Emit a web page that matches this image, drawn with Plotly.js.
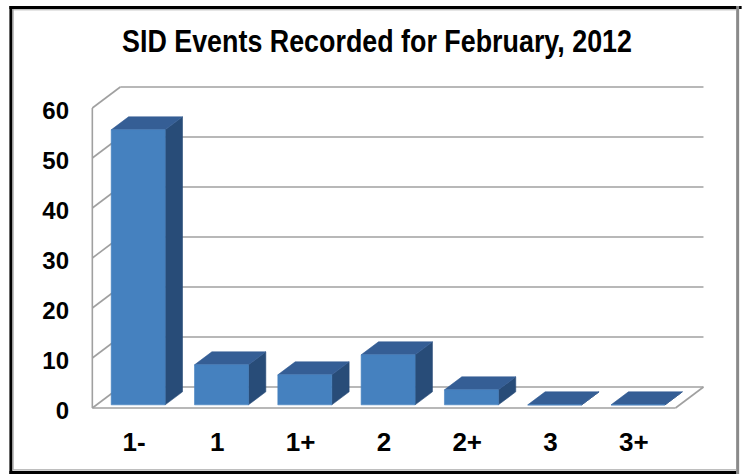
<!DOCTYPE html>
<html><head><meta charset="utf-8">
<script src="https://cdn.plot.ly/plotly-3.0.1.min.js"></script>
<style>html,body{margin:0;padding:0;background:#fff;overflow:hidden;} #chart{width:742px;height:474px;}</style>
</head><body><div id="chart"></div>
<script>
// ---- data ----
const categories = ['1-', '1', '1+', '2', '2+', '3', '3+'];
const counts = [55, 8, 6, 10, 3, 0, 0];
const yTicks = [0, 10, 20, 30, 40, 50, 60];
const titleText = 'SID Events Recorded for February, 2012';

// ---- geometry (pixels -> axis units) ----
const W = 742, H = 474;
const PXU = 83.4, PYU = 5, X0PX = 133.7, Y0PX = 408;
const XMIN = -0.6, XMAX = 6.95, YMIN = -1, YMAX = 65.6;
const DEPX = 28 / PXU, DEPY = 21 / PYU;
const BAR_W = 54 / PXU, BAR_F = 0.15, BAR_B = 0.77;
const ml = X0PX + PXU * XMIN, mr = W - (X0PX + PXU * XMAX);
const mt = Y0PX - PYU * YMAX, mb = H - (Y0PX - PYU * YMIN);
const pw = W - ml - mr, ph = H - mt - mb;
const px2p = px => (px - ml) / pw;
const py2p = py => (H - mb - py) / ph;

const nCat = categories.length;
const yMaxTick = yTicks[yTicks.length - 1];

// ---- walls & grid ----
const grid = {x: [], y: []};
function seg(x1, y1, x2, y2) { grid.x.push(x1, x2, null); grid.y.push(y1, y2, null); }
yTicks.forEach(v => {
  seg(-0.5 + DEPX, v + DEPY, nCat - 0.5 + DEPX, v + DEPY);   // back wall
  seg(-0.5, v, -0.5 + DEPX, v + DEPY);                        // side wall
});
seg(-0.5, 0, -0.5, yMaxTick);                 // side wall front edge
seg(-0.5, 0, nCat - 0.5, 0);                  // floor front edge
seg(nCat - 0.5, 0, nCat - 0.5 + DEPX, DEPY);  // floor right edge

// ---- bars ----
const side = {x: [], y: []}, topF = {x: [], y: []}, front = {x: [], y: []};
counts.forEach((v, i) => {
  const cx = i + BAR_F * DEPX, b = BAR_F * DEPY;
  const x1 = cx - BAR_W / 2, x2 = cx + BAR_W / 2;
  const dx = (BAR_B - BAR_F) * DEPX, dy = (BAR_B - BAR_F) * DEPY;
  const t = b + v;
  front.x.push(x1, x2, x2, x1, x1, null); front.y.push(b, b, t, t, b, null);
  topF.x.push(x1, x2, x2 + dx, x1 + dx, x1, null); topF.y.push(t, t, t + dy, t + dy, t, null);
  side.x.push(x2, x2 + dx, x2 + dx, x2, x2, null); side.y.push(b, b + dy, t + dy, t, b, null);
});

function poly(d, color) {
  return {type: 'scatter', mode: 'lines', x: d.x, y: d.y, fill: 'toself', fillcolor: color,
          line: {width: 0.6, color: color}, hoverinfo: 'skip', showlegend: false, connectgaps: false};
}

const traces = [
  {type: 'scatter', mode: 'lines', x: grid.x, y: grid.y, line: {color: '#a0a0a0', width: 1.6},
   hoverinfo: 'skip', showlegend: false, connectgaps: false},
  poly(side, '#284c78'),
  poly(topF, '#355e95'),
  poly(front, '#4581bf')
];

const tickFont = {family: 'Liberation Sans, Arial, sans-serif', size: 24, weight: 'bold', color: '#000'};

function hline(y, x1, x2, w, c) {
  return {type: 'line', xref: 'paper', yref: 'paper', x0: px2p(x1), x1: px2p(x2), y0: py2p(y), y1: py2p(y), line: {width: w, color: c}};
}
function vline(x, y1, y2, w, c) {
  return {type: 'line', xref: 'paper', yref: 'paper', x0: px2p(x), x1: px2p(x), y0: py2p(y1), y1: py2p(y2), line: {width: w, color: c}};
}

const TITLE_CX = 377, TITLE_W = 510;
const layout = {
  width: W, height: H, autosize: false,
  margin: {l: ml, r: mr, t: mt, b: mb, pad: 0},
  paper_bgcolor: '#fff', plot_bgcolor: 'rgba(0,0,0,0)',
  title: {text: titleText, x: TITLE_CX / W, xanchor: 'center', xref: 'container',
          y: 1 - 41 / H, yanchor: 'middle', yref: 'container',
          font: {family: 'Liberation Sans, Arial, sans-serif', size: 31, weight: 'bold', color: '#000'}},
  xaxis: {range: [XMIN, XMAX], tickvals: categories.map((c, i) => i), ticktext: categories,
          showgrid: false, zeroline: false, showline: false, ticks: '', tickfont: Object.assign({}, tickFont, {size: 26}),
          ticklabelstandoff: 11, fixedrange: true},
  yaxis: {range: [YMIN, YMAX], tickvals: yTicks, ticktext: yTicks.map(String),
          showgrid: false, zeroline: false, showline: false, ticks: '', tickfont: tickFont,
          ticklabelstandoff: 14, ticklabelshift: 3, fixedrange: true},
  shapes: [
    vline(10.5, 6, 474, 3, '#000'),
    hline(7.5, 9, 742, 3, '#000'),
    hline(472.5, 9, 737, 3, '#000'),
    vline(738, 6, 474, 3, '#8a8a8a'),
    vline(12.8, 9, 470, 1, '#a8a8a8'),
    hline(9.8, 12, 737, 1, '#a8a8a8'),
    hline(469.8, 12, 737, 1.2, '#a8a8a8')
  ],
  showlegend: false, hovermode: false
};

Plotly.newPlot('chart', traces, layout, {staticPlot: true, displayModeBar: false}).then(gd => {
  // the original title uses a condensed bold face: compress the real text horizontally
  const t = gd.querySelector('.gtitle');
  if (t) {
    const bb = t.getBBox();
    const s = Math.min(1, TITLE_W / bb.width);
    const cx = bb.x + bb.width / 2;
    t.setAttribute('transform', `translate(${cx},0) scale(${s},1) translate(${-cx},0)`);
  }
});
</script>
</body></html>
